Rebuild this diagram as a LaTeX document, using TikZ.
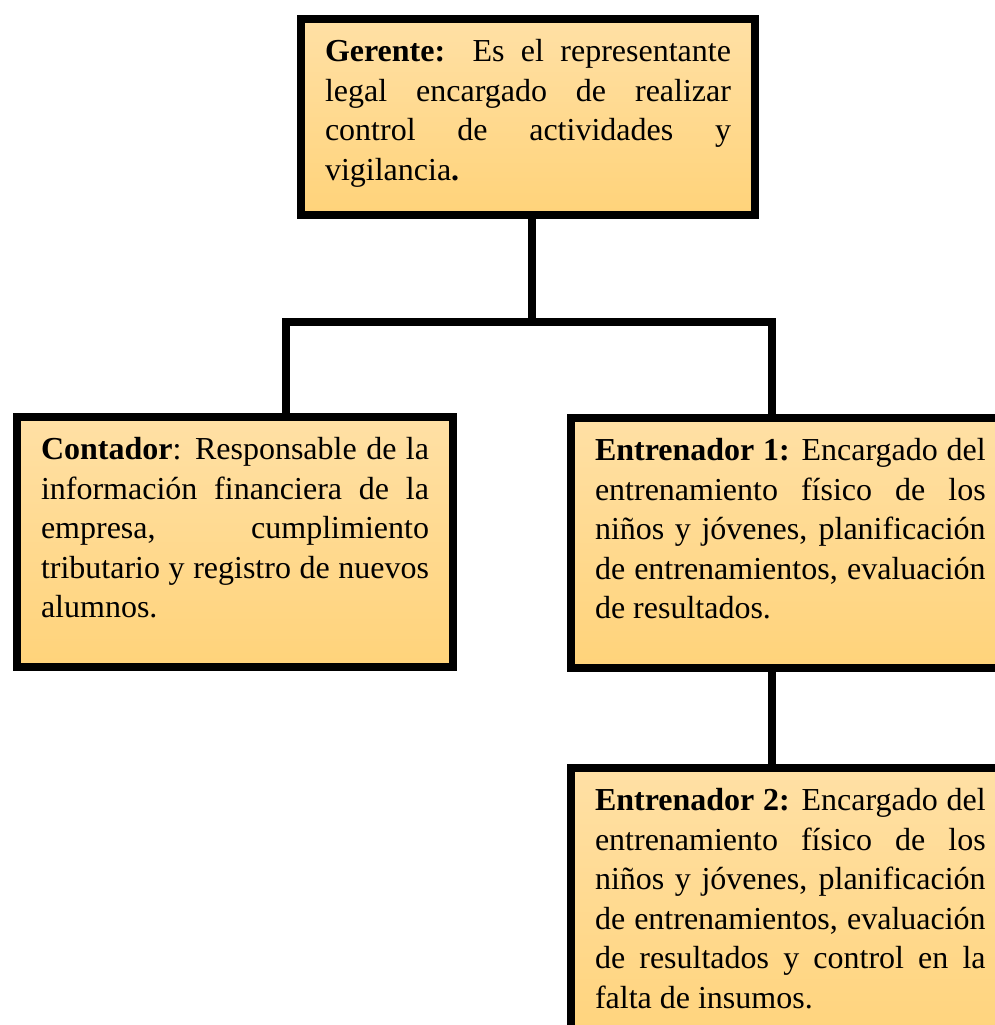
\documentclass[tikz,border=0pt]{standalone}
\usepackage{fontspec}
\setmainfont{Liberation Serif}
\usepackage{tikz}
\definecolor{orotop}{RGB}{255,224,165}
\definecolor{orobot}{RGB}{255,211,122}
\tikzset{caja/.style={
        draw=black, line width=6pt, top color=orotop, bottom color=orobot,
        inner xsep=18pt, inner ysep=11.5pt, anchor=north west,
        font=\fontsize{24}{29.6}\selectfont
    },
    conector/.style={draw=black, line width=5.6pt, line join=miter}
}
% texto justificado dentro de la caja: {ancho}{alto}{texto}
\newcommand{\textocaja}[3]{\parbox[t][#2][t]{#1}{\strut #3}}

\begin{document}
\begin{tikzpicture}[x=0.75pt,y=-0.75pt]
           \useasboundingbox (0,0) rectangle (995,1025);
           \node[caja] (gerente) at (297,15) {\textocaja{304.5pt}{124pt}{\textbf{Gerente:} Es el representante\linebreak legal encargado de realizar\linebreak control de actividades y\linebreak vigilancia\textbf{.}}};
           \node[caja] (contador) at (13,413) {\textocaja{291pt}{164.5pt}{\textbf{Contador}: Responsable de la\linebreak información financiera de la\linebreak empresa, cumplimiento\linebreak tributario y registro de nuevos\linebreak alumnos.}};
           \node[caja] (entrenadoruno) at (567,414) {\textocaja{293pt}{164.5pt}{\textbf{Entrenador 1:} Encargado del\linebreak entrenamiento físico de los\linebreak niños y jóvenes, planificación\linebreak de entrenamientos, evaluación\linebreak de resultados.}};
           \node[caja] (entrenadordos) at (567,764) {\textocaja{293pt}{193pt}{\textbf{Entrenador 2:} Encargado del\linebreak entrenamiento físico de los\linebreak niños y jóvenes, planificación\linebreak de entrenamientos, evaluación\linebreak de resultados y control en la\linebreak falta de insumos.}};
           %\draw[red] (0,0) grid[step=100] (995,1025);
           \coordinate (junta) at (532,322);
           \coordinate (izq) at (286,322);
           \coordinate (der) at (772,322);
           \draw[conector] (junta |- gerente.south) -- (junta);
           \draw[conector] (izq |- contador.north) -- (izq) -- (der) -- (der |- entrenadoruno.north);
           \draw[conector] (der |- entrenadoruno.south) -- (der |- entrenadordos.north);
         \end{tikzpicture}
\end{document}
